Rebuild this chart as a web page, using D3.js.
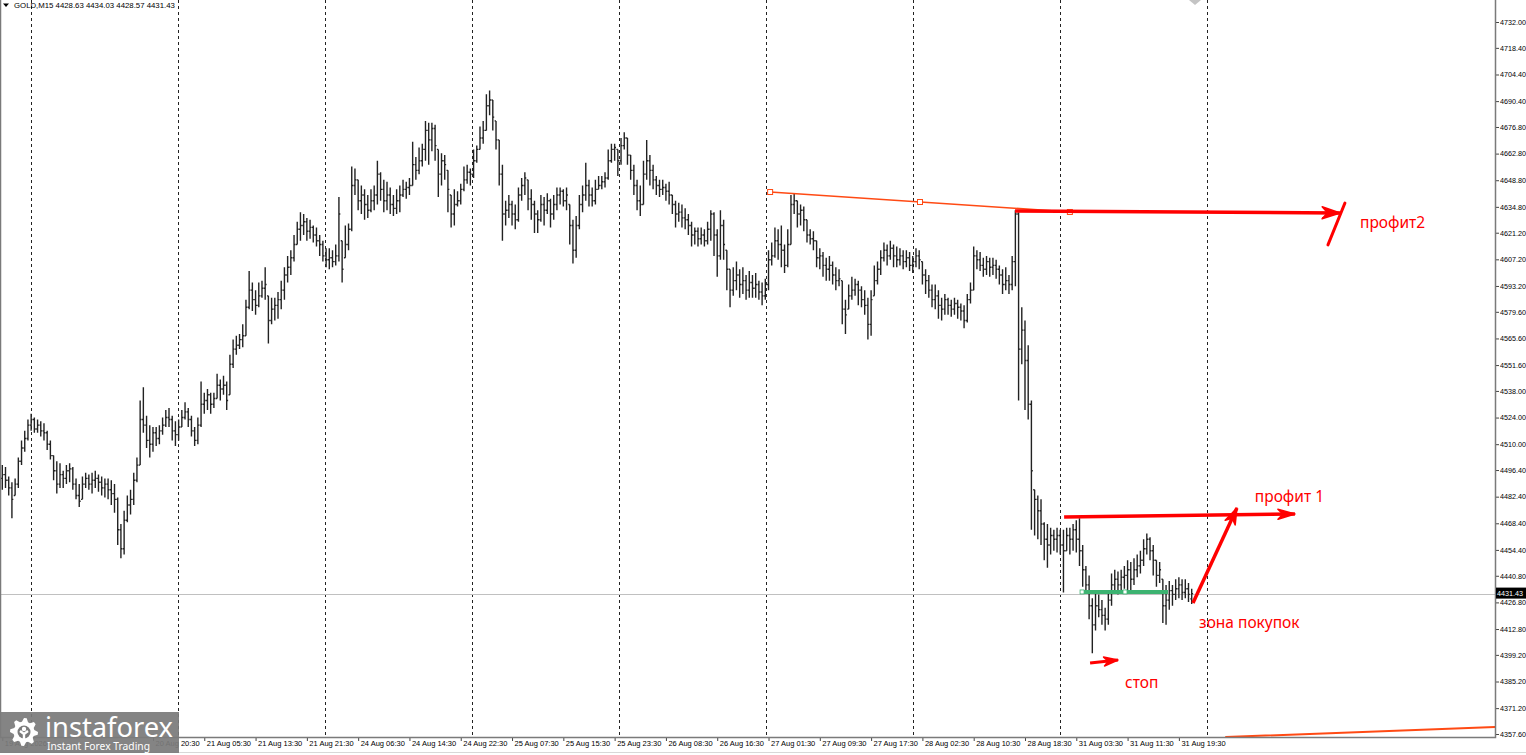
<!DOCTYPE html>
<html>
  <head>
    <meta charset="UTF-8" />
    <title>GOLD,M15</title>
    <style>
      body { margin: 0; background: #fff; overflow: hidden; }
      svg { display: block; }
      .axis text, .title { font-family: 'Liberation Sans', Arial, sans-serif; font-size: 7.5px; fill: #000; }
      .axis.price text { font-size: 7.2px; }
      .note { font-family: 'Noto Sans', 'Open Sans', sans-serif; fill: #ff0000; font-size: 15.5px; }
    </style>
    <script src="https://cdn.jsdelivr.net/npm/d3@7/dist/d3.min.js"></script>
  </head>
  <body>
    <div id="viz"></div>
    <script>
      // GOLD M15 window, bars grouped to 30 min
      const opens = [
        4492,4494,4491,4487,4483,4489,4501,4508,4513,4520,
        4523,4518,4520,4517,4516,4510,4504,4496,4489,4494,
        4492,4496,4497,4489,4483,4481,4489,4492,4489,4491,
        4492,4490,4487,4489,4486,4484,4481,4465,4455,4470,
        4478,4481,4491,4499,4523,4520,4512,4510,4516,4513,
        4517,4520,4524,4523,4517,4515,4519,4524,4527,4523,
        4517,4512,4520,4531,4533,4536,4531,4534,4541,4539,
        4541,4536,4552,4560,4562,4565,4567,4582,4591,4586,
        4583,4588,4592,4588,4575,4581,4583,4586,4591,4599,
        4603,4608,4615,4623,4625,4627,4622,4624,4620,4617,
        4615,4609,4607,4608,4606,4609,4617,4608,4615,4623,
        4646,4649,4638,4641,4636,4633,4638,4641,4652,4644,
        4638,4641,4636,4634,4638,4641,4644,4645,4646,4657,
        4654,4659,4665,4675,4670,4676,4665,4652,4659,4654,
        4641,4631,4636,4638,4644,4649,4653,4652,4659,4665,
        4671,4675,4688,4691,4680,4670,4652,4631,4633,4636,
        4631,4628,4641,4646,4649,4639,4636,4631,4628,4636,
        4633,4638,4631,4636,4641,4643,4638,4636,4625,4612,
        4625,4636,4641,4646,4641,4638,4644,4646,4648,4650,
        4659,4665,4665,4659,4667,4671,4662,4654,4646,4638,
        4636,4652,4659,4654,4649,4646,4644,4645,4643,4641,
        4636,4631,4632,4629,4628,4625,4620,4622,4618,4620,
        4617,4623,4631,4620,4609,4625,4612,4602,4591,4596,
        4599,4594,4596,4591,4595,4592,4594,4590,4588,4594,
        4607,4609,4617,4615,4612,4604,4615,4636,4638,4631,
        4633,4628,4620,4618,4617,4608,4609,4604,4602,4604,
        4599,4596,4596,4581,4581,4588,4591,4594,4591,4586,
        4583,4573,4588,4596,4602,4608,4612,4609,4613,4609,
        4607,4609,4606,4608,4604,4606,4609,4606,4599,4596,
        4591,4586,4588,4583,4581,4586,4583,4581,4584,4582,
        4580,4575,4586,4591,4609,4607,4604,4602,4606,4603,
        4604,4602,4599,4594,4596,4594,4606,4631,4560,4570,
        4554,4531,4486,4481,4475,4468,4460,4457,4462,4460,
        4462,4457,4454,4462,4460,4465,4460,4454,4444,4436,
        4425,4415,4425,4423,4420,4418,4428,4436,4439,4436,
        4440,4441,4444,4439,4444,4446,4449,4455,4460,4454,
        4449,4441,4439,4425,4428,4433,4431,4434,4436,4432,
        4434,4428.63
      ];
      const highs = [
        4499,4498,4493,4490,4492,4503,4512,4517,4523,4526,
        4524,4523,4522,4521,4517,4512,4504,4501,4500,4496,
        4499,4500,4498,4492,4489,4493,4495,4494,4495,4496,
        4494,4493,4492,4492,4491,4489,4482,4468,4475,4483,
        4486,4495,4503,4533,4540,4525,4520,4519,4519,4520,
        4524,4528,4529,4525,4522,4523,4528,4532,4529,4525,
        4519,4524,4543,4537,4539,4537,4537,4547,4544,4546,
        4543,4557,4565,4567,4568,4573,4586,4601,4595,4591,
        4595,4596,4603,4588,4587,4587,4590,4596,4603,4609,
        4612,4620,4627,4632,4631,4629,4628,4625,4624,4620,
        4617,4613,4613,4612,4615,4640,4617,4625,4626,4656,
        4655,4649,4646,4644,4641,4644,4646,4659,4653,4649,
        4648,4645,4641,4644,4646,4649,4648,4650,4669,4661,
        4666,4668,4680,4679,4679,4678,4665,4663,4662,4654,
        4641,4644,4643,4647,4656,4657,4655,4665,4667,4677,
        4680,4694,4696,4691,4680,4670,4657,4638,4641,4638,
        4636,4645,4650,4653,4649,4644,4638,4633,4641,4640,
        4642,4639,4641,4645,4645,4644,4645,4636,4628,4630,
        4641,4646,4658,4649,4645,4649,4651,4651,4653,4665,
        4668,4668,4665,4671,4674,4671,4662,4657,4649,4646,
        4659,4670,4662,4657,4651,4649,4649,4647,4648,4641,
        4638,4637,4636,4634,4631,4627,4624,4624,4624,4623,
        4627,4633,4632,4623,4633,4628,4612,4602,4603,4606,
        4602,4603,4599,4601,4599,4600,4596,4595,4597,4612,
        4616,4624,4623,4625,4615,4623,4641,4642,4638,4636,
        4635,4628,4623,4622,4617,4613,4611,4608,4609,4606,
        4603,4602,4596,4586,4594,4598,4597,4596,4593,4591,
        4587,4591,4604,4606,4612,4616,4615,4617,4615,4614,
        4613,4612,4612,4611,4609,4613,4612,4606,4602,4599,
        4594,4594,4591,4587,4589,4587,4586,4587,4586,4584,
        4583,4589,4595,4614,4612,4611,4608,4609,4608,4608,
        4607,4604,4602,4603,4599,4609,4633,4632,4582,4575,
        4562,4533,4486,4483,4481,4469,4468,4466,4465,4466,
        4465,4465,4466,4466,4468,4470,4471,4457,4446,4441,
        4429,4432,4431,4428,4424,4433,4442,4444,4443,4444,
        4446,4449,4448,4450,4452,4454,4460,4463,4461,4457,
        4449,4448,4439,4436,4438,4436,4439,4440,4439,4439,
        4437,4434.03
      ];
      const lows = [
        4486,4487,4483,4471,4483,4487,4499,4506,4512,4517,
        4516,4516,4514,4512,4507,4502,4491,4484,4487,4487,
        4489,4490,4486,4481,4477,4481,4487,4486,4484,4487,
        4485,4483,4482,4481,4478,4474,4457,4450,4452,4469,
        4473,4478,4490,4499,4516,4508,4503,4506,4509,4510,
        4515,4519,4519,4512,4509,4512,4519,4523,4519,4514,
        4509,4510,4519,4526,4528,4526,4529,4534,4533,4536,
        4528,4536,4550,4557,4560,4561,4567,4581,4580,4578,
        4582,4587,4586,4563,4573,4575,4576,4581,4586,4595,
        4599,4606,4615,4617,4620,4617,4618,4616,4614,4609,
        4606,4603,4602,4603,4604,4606,4595,4608,4612,4622,
        4641,4633,4631,4628,4629,4632,4633,4636,4638,4632,
        4633,4631,4630,4631,4632,4640,4639,4641,4646,4649,
        4652,4656,4659,4657,4664,4659,4640,4646,4649,4632,
        4624,4625,4635,4636,4643,4647,4646,4650,4658,4665,
        4668,4675,4683,4675,4665,4646,4617,4625,4629,4625,
        4623,4627,4638,4641,4633,4628,4621,4621,4627,4625,
        4631,4624,4628,4633,4636,4635,4633,4615,4605,4608,
        4623,4632,4638,4635,4635,4636,4644,4644,4645,4649,
        4658,4659,4651,4657,4665,4657,4649,4641,4633,4630,
        4636,4649,4646,4644,4641,4640,4641,4638,4636,4631,
        4624,4627,4624,4623,4620,4614,4615,4614,4615,4614,
        4615,4617,4609,4598,4607,4607,4591,4582,4588,4591,
        4587,4589,4586,4587,4587,4587,4586,4583,4586,4591,
        4604,4608,4607,4603,4600,4603,4615,4631,4624,4625,
        4622,4616,4615,4612,4603,4602,4598,4596,4596,4594,
        4591,4593,4573,4568,4581,4586,4588,4583,4582,4578,
        4565,4567,4588,4594,4599,4606,4604,4607,4603,4603,
        4604,4602,4603,4601,4600,4603,4602,4594,4589,4587,
        4582,4581,4576,4575,4578,4578,4577,4578,4576,4575,
        4571,4574,4584,4591,4602,4601,4598,4599,4598,4599,
        4597,4594,4589,4591,4589,4591,4593,4533,4552,4528,
        4523,4465,4462,4460,4457,4449,4445,4452,4454,4453,
        4452,4432,4454,4452,4454,4453,4446,4435,4432,4418,
        4400,4412,4419,4415,4412,4415,4425,4432,4431,4433,
        4434,4433,4432,4436,4440,4442,4446,4452,4449,4441,
        4435,4437,4416,4415,4423,4425,4428,4429,4428,4429,
        4427,4426
      ];
      const closes = [
        4494,4491,4487,4481,4489,4501,4508,4513,4520,4523,
        4518,4520,4517,4516,4510,4504,4496,4489,4494,4492,
        4496,4497,4489,4483,4480,4489,4492,4489,4491,4492,
        4490,4487,4489,4486,4484,4481,4465,4455,4470,4478,
        4481,4491,4499,4523,4520,4512,4510,4516,4513,4517,
        4520,4524,4523,4517,4515,4519,4524,4527,4523,4517,
        4512,4520,4531,4533,4536,4531,4534,4541,4539,4541,
        4533,4552,4560,4562,4565,4567,4582,4591,4586,4583,
        4588,4592,4594,4575,4581,4583,4586,4591,4599,4603,
        4608,4615,4623,4625,4627,4622,4624,4620,4617,4615,
        4609,4607,4608,4606,4609,4631,4602,4615,4623,4646,
        4649,4638,4641,4636,4633,4638,4641,4652,4644,4638,
        4641,4636,4634,4638,4641,4644,4645,4646,4657,4654,
        4659,4665,4675,4670,4676,4667,4652,4659,4657,4644,
        4631,4636,4638,4644,4649,4653,4652,4659,4665,4671,
        4675,4688,4691,4682,4670,4652,4631,4633,4636,4631,
        4628,4641,4646,4650,4639,4636,4631,4628,4636,4633,
        4638,4631,4636,4641,4643,4638,4641,4625,4612,4625,
        4636,4641,4646,4641,4638,4644,4646,4648,4650,4659,
        4665,4666,4659,4667,4671,4662,4654,4646,4638,4636,
        4652,4659,4654,4649,4646,4644,4645,4643,4641,4636,
        4631,4632,4629,4628,4625,4620,4622,4618,4620,4617,
        4623,4631,4620,4609,4625,4615,4602,4591,4596,4599,
        4594,4596,4591,4595,4592,4594,4590,4588,4594,4607,
        4609,4617,4615,4612,4604,4615,4636,4638,4631,4633,
        4628,4620,4618,4617,4608,4609,4604,4602,4604,4599,
        4596,4597,4581,4578,4588,4591,4594,4591,4586,4583,
        4573,4586,4596,4602,4608,4612,4609,4613,4609,4607,
        4609,4606,4608,4604,4606,4609,4607,4599,4596,4591,
        4586,4588,4583,4581,4586,4583,4581,4584,4582,4580,
        4575,4586,4591,4609,4607,4604,4602,4606,4603,4604,
        4602,4599,4594,4596,4594,4606,4631,4560,4570,4554,
        4531,4496,4481,4475,4468,4460,4457,4462,4460,4462,
        4457,4454,4462,4460,4465,4460,4454,4444,4436,4425,
        4415,4425,4423,4420,4418,4428,4436,4439,4436,4440,
        4441,4444,4439,4444,4446,4449,4455,4460,4454,4449,
        4441,4444,4425,4428,4433,4431,4434,4436,4432,4434,
        4431,4431.43
      ];

      const timeIdx = [0, 47, 63, 79, 95, 111, 127, 143, 159, 175, 191, 207, 223, 239, 255, 271, 287, 303, 319, 335, 351, 367];
      const timeLabels = [
        '19 Aug 2026', '20 Aug 20:30', '21 Aug 05:30', '21 Aug 13:30', '21 Aug 21:30', '24 Aug 06:30',
        '24 Aug 14:30', '24 Aug 22:30', '25 Aug 07:30', '25 Aug 15:30', '25 Aug 23:30', '26 Aug 08:30',
        '26 Aug 16:30', '27 Aug 01:30', '27 Aug 09:30', '27 Aug 17:30', '28 Aug 02:30', '28 Aug 10:30',
        '28 Aug 18:30', '31 Aug 03:30', '31 Aug 11:30', '31 Aug 19:30'
      ];
      const gridIdx = [8.95, 54.8, 100.7, 146.5, 192.4, 238.2, 284.1, 330.0, 375.8];
      const priceTicks = [
        4732.0, 4718.4, 4704.4, 4690.4, 4676.8, 4662.8, 4648.8, 4634.8, 4621.2, 4607.2,
        4593.2, 4579.6, 4565.6, 4551.6, 4538.0, 4524.0, 4510.0, 4496.4, 4482.4, 4468.4,
        4454.4, 4440.8, 4426.8, 4412.8, 4399.2, 4385.2, 4371.2, 4357.6
      ];
      const lastPrice = 4431.43;

      // hand drawn objects, [bar index, price]
      const trendLine = [[239.5, 4642.6], [333.0, 4632.1]];
      const bottomLine = [[381.7, 4356.0], [465.6, 4361.3]];
      const buyZone = [[336.8, 4432.3], [363.6, 4432.3]];
      const profit2Arrow = [[315.9, 4632.6], [417.3, 4631.6]];
      const profit2Stroke = [[413.5, 4614.8], [418.8, 4636.8]];
      const profit1Arrow = [[331.2, 4471.7], [403.2, 4473.3]];
      const riseArrow = [[371.4, 4426.5], [385.1, 4476.4]];
      const stopArrow = [[339.3, 4394.9], [348.0, 4396.5]];
      const notes = [
        { text: 'профит2', at: [423.5, 4625.8] },
        { text: 'профит 1', at: [390.7, 4481.7] },
        { text: 'зона покупок', at: [373.3, 4415.5] },
        { text: 'стоп', at: [350.2, 4383.9] }
      ];

      class Chart {
        constructor(id) {
          this.div = id;
          this.width = 1526;
          this.height = 755;
          this.plotR = 1495;
          this.plotB = 737;
          this.bars = closes.map((c, i) => ({
            i: i, o: opens[i], h: highs[i], l: lows[i], c: c
          }));
          this.add_svg();
          this.add_scale();
          this.draw_grid();
          this.draw_chart();
          this.draw_objects();
          this.add_axis();
          this.add_logo();
          this.add_title();
        }

        add_svg() {
          this.svg = d3.select(`#${this.div}`)
            .append('svg')
            .attr('width', this.width)
            .attr('height', this.height);
          this.svg.append('rect')
            .attr('width', this.width)
            .attr('height', this.height)
            .attr('fill', '#fff');
        }

        add_scale() {
          this.x = d3.scaleLinear()
            .domain([0, closes.length - 1])
            .range([2.3, 1191.7]);
          this.y = d3.scaleLinear()
            .domain([4357.6, 4732])
            .range([734, 22]);
        }

        pt(d) {
          return [this.x(d[0]), this.y(d[1])];
        }

        draw_grid() {
          this.svg.append('g')
            .selectAll('line')
            .data(gridIdx)
            .join('line')
            .attr('x1', (d) => Math.round(this.x(d)) + 0.5)
            .attr('x2', (d) => Math.round(this.x(d)) + 0.5)
            .attr('y1', 0)
            .attr('y2', this.plotB)
            .attr('stroke', '#222')
            .attr('stroke-width', 1)
            .attr('stroke-dasharray', '3,3');

          const yp = Math.round(this.y(lastPrice)) + 0.5;
          this.svg.append('line')
            .attr('x1', 0)
            .attr('x2', this.plotR)
            .attr('y1', yp)
            .attr('y2', yp)
            .attr('stroke', '#c0c0c0');
        }

        draw_chart() {
          const x = this.x, y = this.y;
          this.svg.append('g')
            .selectAll('path')
            .data(this.bars)
            .join('path')
            .attr('d', (d) => {
              const xi = x(d.i);
              return `M${xi},${y(d.h)}V${y(d.l)}` +
                `M${xi - 1.4},${y(d.o)}H${xi}` +
                `M${xi},${y(d.c)}H${xi + 1.4}`;
            })
            .attr('fill', 'none')
            .attr('stroke', '#222')
            .attr('stroke-width', 1.4);
        }

        line_of(pts, color, w, cap) {
          this.svg.append('path')
            .attr('d', d3.line()(pts.map((d) => this.pt(d))))
            .attr('fill', 'none')
            .attr('stroke', color)
            .attr('stroke-width', w)
            .attr('stroke-linecap', cap || 'round');
        }

        arrow_of(pts, len, half, w) {
          this.line_of(pts, '#ff0000', w || 3, 'butt');
          const p0 = this.pt(pts[0]);
          const p1 = this.pt(pts[1]);
          const dx = p1[0] - p0[0];
          const dy = p1[1] - p0[1];
          const dl = Math.hypot(dx, dy);
          const ux = dx / dl, uy = dy / dl;
          const bx = p1[0] - ux * len, by = p1[1] - uy * len;
          const nx = p1[0] - ux * len * 0.7, ny = p1[1] - uy * len * 0.7;
          const head = [
            p1,
            [bx - uy * half, by + ux * half],
            [nx, ny],
            [bx + uy * half, by - ux * half]
          ];
          this.svg.append('path')
            .attr('d', d3.line()(head) + 'Z')
            .attr('fill', '#ff0000')
            .attr('stroke', '#ff0000')
            .attr('stroke-width', 1.5)
            .attr('stroke-linejoin', 'round');
        }

        draw_objects() {
          // sloping resistance line with handles
          this.line_of(trendLine, '#ff4a14', 1.6);
          const mid = [(trendLine[0][0] + trendLine[1][0]) / 2, (trendLine[0][1] + trendLine[1][1]) / 2];
          this.svg.append('g')
            .selectAll('rect')
            .data([trendLine[0], mid, trendLine[1]])
            .join('rect')
            .attr('x', (d) => this.pt(d)[0] - 2.5)
            .attr('y', (d) => this.pt(d)[1] - 2.5)
            .attr('width', 5)
            .attr('height', 5)
            .attr('fill', '#fff')
            .attr('stroke', '#ff4a14')
            .attr('stroke-width', 1);

          this.line_of(bottomLine, '#ff4a14', 2);

          this.arrow_of(profit2Arrow, 18, 6, 3.5);
          this.line_of(profit2Stroke, '#ff0000', 3);
          this.arrow_of(profit1Arrow, 17, 5, 3.5);
          this.arrow_of(riseArrow, 16, 5.5, 3.5);
          this.arrow_of(stopArrow, 14, 4.5, 3);

          // buy zone level
          this.line_of(buyZone, '#3cb371', 4, 'butt');
          const bz = [buyZone[0], [(buyZone[0][0] + buyZone[1][0]) / 2, buyZone[0][1]]];
          this.svg.append('g')
            .selectAll('rect')
            .data(bz)
            .join('rect')
            .attr('x', (d) => this.pt(d)[0] - 2)
            .attr('y', (d) => this.pt(d)[1] - 2)
            .attr('width', 4)
            .attr('height', 4)
            .attr('fill', '#fff')
            .attr('stroke', '#3cb371')
            .attr('stroke-width', 0.8);

          this.svg.append('g')
            .selectAll('text')
            .data(notes)
            .join('text')
            .attr('class', 'note')
            .attr('x', (d) => this.pt(d.at)[0])
            .attr('y', (d) => this.pt(d.at)[1])
            .attr('dominant-baseline', 'middle')
            .text((d) => d.text);
        }

        add_axis() {
          const axisR = this.svg.append('g')
            .attr('class', 'axis price')
            .attr('transform', `translate(${this.plotR},0)`)
            .call(
              d3.axisRight(this.y)
                .tickValues(priceTicks)
                .tickFormat(d3.format('.2f'))
                .tickSize(4)
                .tickPadding(1)
            );
          axisR.select('.domain').remove();
          axisR.selectAll('.tick line').attr('stroke', '#444');

          const axisB = this.svg.append('g')
            .attr('class', 'axis')
            .attr('transform', `translate(0,${this.plotB})`)
            .call(
              d3.axisBottom(this.x)
                .tickValues(timeIdx)
                .tickFormat((d, i) => timeLabels[i])
                .tickSize(4)
                .tickPadding(3)
            );
          axisB.select('.domain').remove();
          axisB.selectAll('.tick line').attr('stroke', '#444');
          axisB.selectAll('.tick text')
            .attr('text-anchor', 'start')
            .attr('x', 2)
            .attr('y', 4)
            .attr('dy', '0.71em');

          // frame
          this.svg.append('path')
            .attr('d', `M0.5,0V${this.plotB + 0.5}H${this.plotR + 0.5}V0`)
            .attr('fill', 'none')
            .attr('stroke', '#7a7a7a')
            .attr('stroke-width', 1.5);

          this.svg.append('line')
            .attr('x1', 0)
            .attr('x2', this.width)
            .attr('y1', 752.5)
            .attr('y2', 752.5)
            .attr('stroke', '#d8d8d8');

          // last price box
          const yp = this.y(lastPrice);
          this.svg.append('rect')
            .attr('x', this.plotR + 1)
            .attr('y', yp - 6)
            .attr('width', 32)
            .attr('height', 11)
            .attr('fill', '#000');
          this.svg.append('text')
            .attr('class', 'title')
            .attr('x', this.plotR + 2)
            .attr('y', yp)
            .attr('dominant-baseline', 'middle')
            .style('fill', '#fff')
            .style('font-size', '7.2px')
            .text(d3.format('.2f')(lastPrice));

          // chart shift marker
          this.svg.append('path')
            .attr('d', 'M1189,0L1201,0L1195,5Z')
            .attr('fill', '#c4c4c4');
        }

        add_logo() {
          const g = this.svg.append('g');
          g.append('rect')
            .attr('x', 0)
            .attr('y', 712)
            .attr('width', 179)
            .attr('height', 41)
            .attr('fill', '#7b7b7b')
            .attr('opacity', 0.93);

          const cx = 24, cy = 732;
          const gear = d3.range(32).map((k) => {
            const a = (k / 32) * Math.PI * 2;
            const r = Math.floor(k / 2) % 2 === 0 ? 14 : 10.5;
            return [cx + r * Math.cos(a), cy + r * Math.sin(a)];
          });
          g.append('path')
            .attr('d', d3.line()(gear) + 'Z')
            .attr('fill', '#fff');
          g.append('circle')
            .attr('cx', cx)
            .attr('cy', cy)
            .attr('r', 6.5)
            .attr('fill', '#7b7b7b');
          g.append('circle')
            .attr('cx', cx)
            .attr('cy', cy - 3)
            .attr('r', 2.2)
            .attr('fill', '#fff');
          g.append('path')
            .attr('d', `M${cx - 4},${cy - 1}L${cx},${cy + 2}L${cx + 4},${cy - 1}M${cx},${cy + 2}V${cy + 11}`)
            .attr('stroke', '#fff')
            .attr('stroke-width', 2.4)
            .attr('fill', 'none');

          g.append('text')
            .attr('x', 45)
            .attr('y', 737)
            .attr('font-family', "'Noto Sans', 'Open Sans', sans-serif")
            .attr('font-size', 27)
            .attr('fill', '#fff')
            .attr('textLength', 128)
            .attr('lengthAdjust', 'spacingAndGlyphs')
            .text('instaforex');
          g.append('text')
            .attr('x', 47)
            .attr('y', 750)
            .attr('font-family', "'Noto Sans', 'Open Sans', sans-serif")
            .attr('font-size', 11)
            .attr('fill', '#fff')
            .attr('textLength', 103)
            .attr('lengthAdjust', 'spacingAndGlyphs')
            .text('Instant Forex Trading');
        }

        add_title() {
          this.svg.append('path')
            .attr('d', 'M3,3.5L9,3.5L6,7Z')
            .attr('fill', '#000');
          this.svg.append('text')
            .attr('class', 'title')
            .attr('x', 14)
            .attr('y', 8)
            .style('font-size', '7.8px')
            .text(`GOLD,M15  ${opens[opens.length - 1]} ${highs[highs.length - 1]} 4428.57 ${lastPrice}`);
        }
      }

      new Chart('viz');
    </script>
  </body>
</html>
